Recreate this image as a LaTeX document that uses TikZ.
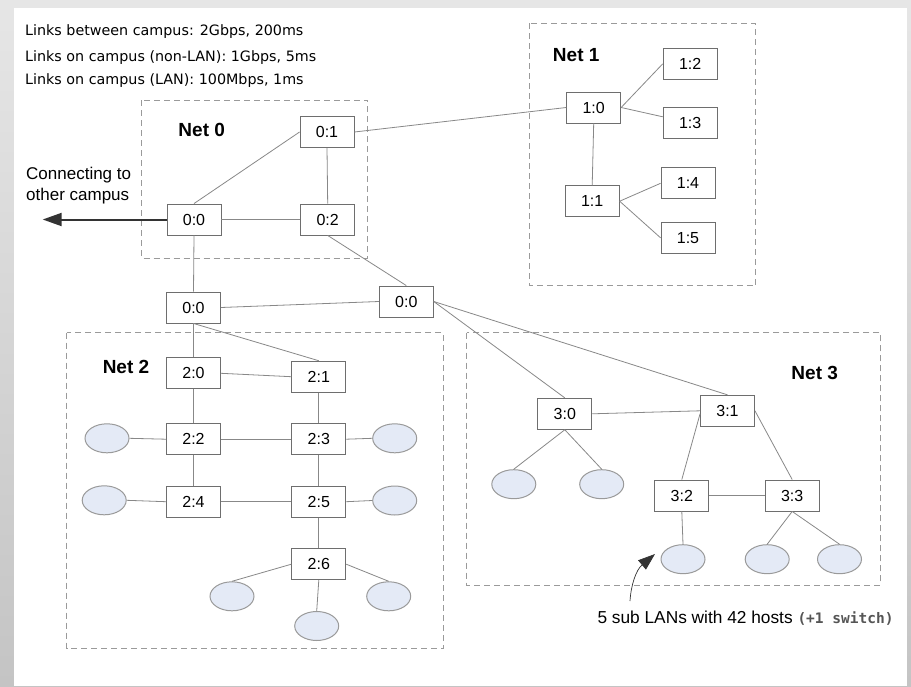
\documentclass[tikz,border=0pt]{standalone}
\usepackage{fontspec}
\setmainfont{Liberation Sans}
\newfontfamily\dejavu{DejaVu Sans}
\newfontfamily\dmono{DejaVu Sans Mono}
\usetikzlibrary{arrows.meta,shapes.geometric}
\definecolor{boxline}{HTML}{6E6E6E}
\definecolor{edgeline}{HTML}{888888}
\definecolor{dashline}{HTML}{9A9A9A}
\definecolor{hostfill}{HTML}{E4EAF6}
\definecolor{hostline}{HTML}{9A9A9A}
\definecolor{monogray}{HTML}{555555}
\definecolor{bgtop}{HTML}{E6E6E6}
\definecolor{bgbot}{HTML}{C4C4C4}
\begin{document}
\begin{tikzpicture}[x=1pt,y=-1pt,
  sw/.style={draw=boxline,line width=0.9pt,fill=white,minimum width=54pt,minimum height=31pt,inner sep=0pt,font=\fontsize{16}{18}\selectfont},
  host/.style={ellipse,draw=hostline,line width=1pt,fill=hostfill,minimum width=44pt,minimum height=29pt,inner sep=0pt},
  netbox/.style={draw=dashline,line width=0.9pt,dash pattern=on 6pt off 4pt},
  netlabel/.style={font=\bfseries\fontsize{19}{21}\selectfont},
  link/.style={draw=edgeline,line width=0.8pt},
  info/.style={anchor=west,inner sep=0pt,font=\dejavu\fontsize{14.3}{16}\selectfont},
  note/.style={anchor=west,inner sep=0pt,font=\fontsize{17.3}{19}\selectfont}]
% background frame
\shade[top color=bgtop,bottom color=bgbot] (0,0) rectangle (911,686);
\fill[white] (14,8) rectangle (907,686);
\useasboundingbox (0,0) rectangle (911,686);
% info text
\node[info] (i1) at (25,32) {Links between campus: 2Gbps, 200ms};
\node[info] (i2) at (25,58) {Links on campus (non-LAN): 1Gbps, 5ms};
\node[info] (i3) at (25,81) {Links on campus (LAN): 100Mbps, 1ms};
% net boxes
\draw[netbox] (141.7,100) rectangle (367.7,258);
\draw[netbox] (529.3,23.3) rectangle (755.7,285.7);
\draw[netbox] (66.7,332.7) rectangle (443.3,648.3);
\draw[netbox] (466.7,332.7) rectangle (880.7,585);
\node[netlabel] (l0) at (201.7,130) {Net 0};
\node[netlabel] (l1) at (576.2,55) {Net 1};
\node[netlabel] (l2) at (126,367.3) {Net 2};
\node[netlabel] (l3) at (814.7,372.7) {Net 3};
% Net 0
\node[sw] (n00) at (194,219.5) {0:0};
\node[sw] (n01) at (327,132) {0:1};
\node[sw] (n02) at (327.7,219.5) {0:2};
\node[sw] (m00) at (193.5,307.5) {0:0};
\node[sw] (r00) at (406.3,301.5) {0:0};
% Net 1
\node[sw] (n10) at (593.7,107.5) {1:0};
\node[sw] (n12) at (690.2,63.8) {1:2};
\node[sw] (n13) at (690.2,122.8) {1:3};
\node[sw] (n11) at (592.2,201.2) {1:1};
\node[sw] (n14) at (688,183.3) {1:4};
\node[sw] (n15) at (688,237.8) {1:5};
% Net 2
\node[sw] (n20) at (193.5,373.3) {2:0};
\node[sw] (n21) at (318.8,376.7) {2:1};
\node[sw] (n22) at (193.5,439.2) {2:2};
\node[sw] (n23) at (318.8,439.2) {2:3};
\node[sw] (n24) at (193.5,501.7) {2:4};
\node[sw] (n25) at (318.8,501.7) {2:5};
\node[sw] (n26) at (318.8,564.2) {2:6};
\node[host] (h22) at (107,438.3) {};
\node[host] (h23) at (394.7,438.3) {};
\node[host] (h24) at (104.2,500.3) {};
\node[host] (h25) at (394.7,500.5) {};
\node[host] (h26a) at (232,596.3) {};
\node[host] (h26b) at (316.7,626) {};
\node[host] (h26c) at (388.7,596.3) {};
% Net 3
\node[sw] (n30) at (564.8,413.8) {3:0};
\node[sw] (n31) at (727.5,410.8) {3:1};
\node[sw] (n32) at (681.8,495.5) {3:2};
\node[sw] (n33) at (792.2,495.5) {3:3};
\node[host] (h30a) at (513.8,484.2) {};
\node[host] (h30b) at (601.7,484.2) {};
\node[host] (h32) at (683,559.2) {};
\node[host] (h33a) at (767.2,559.2) {};
\node[host] (h33b) at (839.5,559.2) {};
% links
\path[link] (n00.north) -- (n01.west);
\path[link] (n01.south) -- (n02.north);
\path[link] (n00.east) -- (n02.west);
\path[link] (n01.east) -- (n10.west);
\path[link] (n02.south) -- (r00.north);
\path[link] (n00.south) -- (m00.north);
\path[link] (m00.east) -- (r00.west);
\path[link] (m00.south) -- (n20.north);
\path[link] (m00.south) -- (n21.north);
\path[link] (n20.east) -- (n21.west);
\path[link] (n20.south) -- (n22.north);
\path[link] (n21.south) -- (n23.north);
\path[link] (n22.east) -- (n23.west);
\path[link] (n22.south) -- (n24.north);
\path[link] (n23.south) -- (n25.north);
\path[link] (n24.east) -- (n25.west);
\path[link] (n25.south) -- (n26.north);
\path[link] (h22.east) -- (n22.west);
\path[link] (n23.east) -- (h23.west);
\path[link] (h24.east) -- (n24.west);
\path[link] (n25.east) -- (h25.west);
\path[link] (n26.west) -- (h26a.north);
\path[link] (n26.south) -- (h26b.north);
\path[link] (n26.east) -- (h26c.north);
\path[link] (r00.east) -- (n31.north);
\path[link] (r00.east) -- (n30.north);
\path[link] (n30.east) -- (n31.west);
\path[link] ([yshift=-3pt]n31.west) -- (n32.north);
\path[link] (n31.east) -- (n33.north);
\path[link] (n32.east) -- (n33.west);
\path[link] (n30.south) -- (h30a.north);
\path[link] (n30.south) -- (h30b.north);
\path[link] (n32.south) -- (h32.north);
\path[link] (n33.south) -- (h33a.north);
\path[link] (n33.south) -- (h33b.north);
\path[link] (n10.east) -- (n12.west);
\path[link] (n10.east) -- ([yshift=6pt]n13.west);
\path[link] (n10.south) -- (n11.north);
\path[link] (n11.east) -- (n14.west);
\path[link] (n11.east) -- (n15.west);
% arrow to other campus
\coordinate (other) at (42.7,219.5);
\draw[draw=black!80,line width=2pt,-{Triangle[length=19pt,width=13pt]}] (n00.west) -- (other);
\node[note,font=\fontsize{17}{19}\selectfont] (c1) at (26,175) {Connecting to};
\node[note,font=\fontsize{17}{19}\selectfont] (c2) at (26,196) {other campus};
% annotation
\node[note] (ann) at (597.3,618.3) {5 sub LANs with 42 hosts {\color{monogray}\dmono\bfseries\fontsize{14.5}{16}\selectfont(+1 switch)}};
\coordinate (anntip) at (655,554);
\draw[draw=black!80,line width=0.7pt,-{Triangle[length=17pt,width=12pt]}] (630,601) .. controls (631,585) and (636,570) .. (anntip);
\end{tikzpicture}
\end{document}
